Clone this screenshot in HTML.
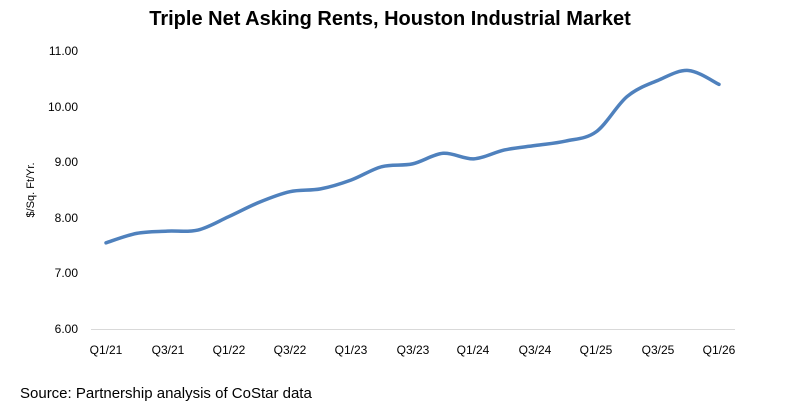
<!DOCTYPE html>
<html><head><meta charset="utf-8"><style>
html,body{margin:0;padding:0;background:#fff;}
svg text{font-family:"Liberation Sans",Arial,sans-serif;fill:#000;}
</style></head><body>
<svg id="c" width="799" height="406" xmlns="http://www.w3.org/2000/svg">
<text x="390" y="25" text-anchor="middle" font-size="20" font-weight="bold">Triple Net Asking Rents, Houston Industrial Market</text>
<g font-size="12" text-anchor="end">
<text x="78" y="55">11.00</text>
<text x="78" y="111">10.00</text>
<text x="78" y="166">9.00</text>
<text x="78" y="222">8.00</text>
<text x="78" y="277">7.00</text>
<text x="78" y="333">6.00</text>
</g>
<text transform="translate(34,190) rotate(-90)" text-anchor="middle" font-size="11">$/Sq. Ft/Yr.</text>
<line x1="91" y1="329.5" x2="735" y2="329.5" stroke="#d9d9d9" stroke-width="1"/>
<g font-size="12" text-anchor="middle">
<text x="106" y="354">Q1/21</text><text x="168" y="354">Q3/21</text><text x="229" y="354">Q1/22</text>
<text x="290" y="354">Q3/22</text><text x="351" y="354">Q1/23</text><text x="413" y="354">Q3/23</text>
<text x="473" y="354">Q1/24</text><text x="535" y="354">Q3/24</text><text x="596" y="354">Q1/25</text>
<text x="658" y="354">Q3/25</text><text x="719" y="354">Q1/26</text>
</g>
<text x="20" y="398" font-size="15">Source: Partnership analysis of CoStar data</text>
<path id="ln" fill="none" stroke="#4f81bd" stroke-width="3.5" stroke-linecap="round" stroke-linejoin="round"/>
</svg>
<script>
var v=[7.55,7.72,7.76,7.78,8.02,8.28,8.47,8.52,8.68,8.92,8.97,9.16,9.06,9.22,9.30,9.38,9.55,10.18,10.47,10.65,10.40];
var p=v.map(function(d,i){return [106+i*30.65,51+(11-d)*55.6];});
var s="M"+p[0][0]+","+p[0][1];
for(var i=0;i<p.length-1;i++){
var a=p[i-1]||p[i],b=p[i],c=p[i+1],d=p[i+2]||c,t=6;
s+=" C"+(b[0]+(c[0]-a[0])/t)+","+(b[1]+(c[1]-a[1])/t)+" "+(c[0]-(d[0]-b[0])/t)+","+(c[1]-(d[1]-b[1])/t)+" "+c[0]+","+c[1];
}
document.getElementById("ln").setAttribute("d",s);
</script>
</body></html>
